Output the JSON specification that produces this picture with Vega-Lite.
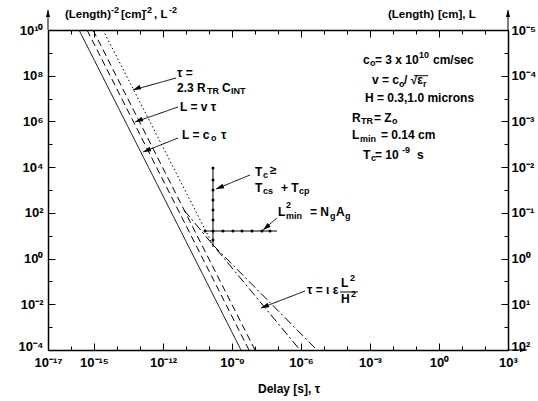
{
  "$schema": "https://vega.github.io/schema/vega-lite/v6.json",
  "width": 460,
  "height": 320,
  "autosize": {"type": "none"},
  "padding": {"left": 48, "top": 30, "right": 30, "bottom": 51},
  "background": "white",
  "config": {
    "view": {"stroke": null},
    "axis": {
      "grid": false,
      "domainColor": "black",
      "domainWidth": 1.5,
      "tickColor": "black",
      "tickWidth": 1,
      "labelFont": "Liberation Sans",
      "labelFontWeight": "bold",
      "labelFontSize": 13,
      "labelColor": "black",
      "labelOverlap": false,
      "labelBound": false,
      "labelFlush": false
    }
  },
  "datasets": {
    "segs": [
      {"series": "solid", "t1": 2.23e-16, "v1": 1e10, "t2": 2.46e-9, "v2": 1e-4},
      {"series": "dashed", "t1": 4.97e-16, "v1": 1e10, "t2": 5.48e-9, "v2": 1e-4},
      {"series": "dashed", "t1": 9.06e-16, "v1": 1e10, "t2": 1.0e-8, "v2": 1e-4},
      {"series": "dotted", "t1": 2.46e-15, "v1": 1e10, "t2": 1.49e-10, "v2": 3.93},
      {"series": "dashdot", "t1": 8.18e-12, "v1": 133, "t2": 9.06e-7, "v2": 1e-4},
      {"series": "dashdot", "t1": 1.49e-10, "v1": 3.93, "t2": 4.97e-6, "v2": 1e-4},
      {"series": "plus", "t1": 1.49e-10, "v1": 9170, "t2": 1.49e-10, "v2": 3.21},
      {"series": "plus", "t1": 6.70e-11, "v1": 16.07, "t2": 9.06e-8, "v2": 16.07},
      {"series": "arrow", "t1": 3.67e-12, "v1": 7.94e7, "t2": 4.97e-14, "v2": 2.37e7},
      {"series": "arrow", "t1": 4.49e-12, "v1": 4.28e6, "t2": 6.07e-14, "v2": 9.44e5},
      {"series": "arrow", "t1": 4.49e-12, "v1": 1.88e5, "t2": 1.35e-13, "v2": 4.60e4},
      {"series": "arrow", "t1": 6.07e-9, "v1": 4530, "t2": 2.01e-10, "v2": 1107},
      {"series": "arrow", "t1": 9.06e-8, "v1": 59.6, "t2": 2.23e-8, "v2": 17.8},
      {"series": "arrow", "t1": 1.49e-6, "v1": 0.0381, "t2": 1.82e-8, "v2": 0.00688},
      {"series": "axis", "t1": 1e-17, "v1": 1e10, "t2": 1e-17, "v2": 7.5e10},
      {"series": "axis", "t1": 1e3, "v1": 1e10, "t2": 1e3, "v2": 7.5e10},
      {"series": "axis", "t1": 1e3, "v1": 1e-4, "t2": 6.7e3, "v2": 1e-4},
      {"series": "arrow", "t1": 4.97e-5, "v1": 0.0345, "t2": 3.01e-4, "v2": 0.0345},
      {"series": "arrow", "t1": 0.0818, "v1": 1.0e8, "t2": 0.333, "v2": 1.0e8}
    ],
    "plus": [
      {"t": 1.49e-10, "v": 9170}, {"t": 1.49e-10, "v": 2738}, {"t": 1.49e-10, "v": 1000},
      {"t": 1.49e-10, "v": 365}, {"t": 1.49e-10, "v": 133}, {"t": 1.49e-10, "v": 48.7},
      {"t": 1.49e-10, "v": 16.07}, {"t": 1.49e-10, "v": 6.49},
      {"t": 6.70e-11, "v": 16.07}, {"t": 4.06e-10, "v": 16.07}, {"t": 1.10e-9, "v": 16.07},
      {"t": 2.72e-9, "v": 16.07}, {"t": 7.41e-9, "v": 16.07}, {"t": 2.01e-8, "v": 16.07},
      {"t": 4.49e-8, "v": 16.07}
    ],
    "heads158": [
      {"t": 4.97e-14, "v": 2.37e7}, {"t": 6.07e-14, "v": 9.44e5}, {"t": 1.35e-13, "v": 4.60e4},
      {"t": 2.01e-10, "v": 1107}, {"t": 1.82e-8, "v": 0.00688}
    ],
    "heads140": [{"t": 2.23e-8, "v": 17.8}],
    "headsUp": [{"t": 1e-17, "v": 7.5e10}, {"t": 1e3, "v": 7.5e10}],
    "headsRight": [{"t": 6.7e3, "v": 1e-4}],
    "big": [
      {"label": "τ =", "t": 4.06e-12, "v": 1.315e8},
      {"label": "2.3 R", "t": 4.06e-12, "v": 2.90e7},
      {"label": "C", "t": 3.67e-10, "v": 2.90e7},
      {"label": "L = v τ", "t": 5.48e-12, "v": 4.28e6},
      {"label": "L = c", "t": 6.70e-12, "v": 2.55e5},
      {"label": "τ", "t": 3.33e-10, "v": 2.55e5},
      {"label": "T", "t": 1e-8, "v": 6130},
      {"label": "≥", "t": 4.49e-8, "v": 7500},
      {"label": "T", "t": 1e-8, "v": 1224},
      {"label": "+ T", "t": 1.35e-7, "v": 1224},
      {"label": "L", "t": 1e-7, "v": 109},
      {"label": "= N", "t": 2.46e-6, "v": 109},
      {"label": "A", "t": 3.32e-5, "v": 109},
      {"label": "τ = ι ε", "t": 1.82e-6, "v": 0.0422},
      {"label": "L", "t": 5.48e-5, "v": 0.0853},
      {"label": "H", "t": 5.48e-5, "v": 0.0170},
      {"label": "c", "t": 4.97e-4, "v": 4.87e8},
      {"label": "= 3 x 10", "t": 1.65e-3, "v": 4.87e8},
      {"label": "cm/sec", "t": 0.548, "v": 4.87e8},
      {"label": "v = c", "t": 1.22e-3, "v": 6.49e7},
      {"label": "/ √ε", "t": 0.0301, "v": 6.49e7},
      {"label": "H = 0.3,1.0 microns", "t": 6.07e-4, "v": 1.06e7},
      {"label": "R", "t": 1.65e-4, "v": 1.41e6},
      {"label": "= Z", "t": 1.49e-3, "v": 1.41e6},
      {"label": "L", "t": 1.65e-4, "v": 2.55e5},
      {"label": "= 0.14 cm", "t": 3.01e-3, "v": 2.55e5},
      {"label": "T", "t": 4.97e-4, "v": 3.40e4},
      {"label": "= 10", "t": 1.65e-3, "v": 3.40e4},
      {"label": "s", "t": 0.11, "v": 3.40e4},
      {"label": "Delay [s], τ", "t": 1.35e-8, "v": 2.0e-6}
    ],
    "titles": [
      {"label": "(Length)", "t": 5.48e-17, "v": 4.53e10},
      {"label": "[cm]", "t": 1.49e-14, "v": 4.53e10},
      {"label": ", L", "t": 4.06e-13, "v": 4.53e10},
      {"label": "(Length)", "t": 6.07e-3, "v": 4.53e10},
      {"label": "[cm], L", "t": 0.906, "v": 4.53e10}
    ],
    "small": [
      {"label": "TR", "t": 8.18e-11, "v": 2.14e7},
      {"label": "INT", "t": 9.06e-10, "v": 2.14e7},
      {"label": "o", "t": 1.22e-10, "v": 1.88e5},
      {"label": "c", "t": 2.23e-8, "v": 4530},
      {"label": "cs", "t": 2.23e-8, "v": 903},
      {"label": "cp", "t": 8.18e-7, "v": 903},
      {"label": "2", "t": 2.23e-7, "v": 221},
      {"label": "min", "t": 2.23e-7, "v": 72.9},
      {"label": "g", "t": 1.82e-5, "v": 72.9},
      {"label": "g", "t": 8.18e-5, "v": 72.9},
      {"label": "2", "t": 1.35e-4, "v": 0.141},
      {"label": "2", "t": 1.49e-4, "v": 0.0282},
      {"label": "o", "t": 1e-3, "v": 3.60e8},
      {"label": "10", "t": 0.135, "v": 8.06e8},
      {"label": "o", "t": 0.01824, "v": 4.34e7},
      {"label": "r", "t": 0.201, "v": 4.34e7},
      {"label": "TR", "t": 4.06e-4, "v": 1.04e6},
      {"label": "o", "t": 9.06e-3, "v": 1.04e6},
      {"label": "min", "t": 3.67e-4, "v": 1.70e5},
      {"label": "c", "t": 1.10e-3, "v": 2.51e4},
      {"label": "-9", "t": 0.0246, "v": 5.62e4},
      {"label": "-2", "t": 5.48e-15, "v": 7.5e10},
      {"label": "-2", "t": 1.49e-13, "v": 7.5e10},
      {"label": "-2", "t": 1.82e-12, "v": 7.5e10}
    ]
  },
  "layer": [
    {
      "data": {"name": "segs"},
      "mark": {"type": "rule", "color": "black", "strokeWidth": 1},
      "encoding": {
        "x": {
          "field": "t1", "type": "quantitative",
          "scale": {"type": "log", "domain": [1e-17, 1e3], "nice": false},
          "axis": {
            "orient": "bottom", "title": null,
            "values": [1e-17,1e-16,1e-15,1e-14,1e-13,1e-12,1e-11,1e-10,1e-9,1e-8,1e-7,1e-6,1e-5,1e-4,1e-3,1e-2,1e-1,1,10,100,1000],
            "tickSize": {"condition": {"test": "indexof([-17,-15,-12,-9,-6,-3,0,3], round(log(datum.value)/LN10)) >= 0", "value": -7}, "value": -4},
            "labelPadding": 13,
            "labelExpr": "indexof([-17,-15,-12,-9,-6,-3,0,3], round(log(datum.value)/LN10)) >= 0 ? ['10⁻¹⁷','10⁻¹⁵','10⁻¹²','10⁻⁹','10⁻⁶','10⁻³','10⁰','10³'][indexof([-17,-15,-12,-9,-6,-3,0,3], round(log(datum.value)/LN10))] : ''"
          }
        },
        "x2": {"field": "t2"},
        "y": {
          "field": "v1", "type": "quantitative",
          "scale": {"type": "log", "domain": [1e-4, 1e10], "nice": false},
          "axis": {
            "orient": "left", "title": null,
            "values": [1e-4,1e-3,1e-2,1e-1,1,10,100,1e3,1e4,1e5,1e6,1e7,1e8,1e9,1e10],
            "tickSize": {"condition": {"test": "round(log(datum.value)/LN10) % 2 == 0", "value": -7}, "value": -4},
            "labelPadding": 12,
            "labelBaseline": {"condition": {"test": "datum.value < 2e-4", "value": "alphabetic"}, "value": "middle"},
            "labelExpr": "round(log(datum.value)/LN10) % 2 == 0 ? ['10⁻⁴','10⁻²','10⁰','10²','10⁴','10⁶','10⁸','10¹⁰'][(round(log(datum.value)/LN10)+4)/2] : ''"
          }
        },
        "y2": {"field": "v2"},
        "strokeDash": {
          "field": "series", "type": "nominal", "legend": null,
          "scale": {
            "domain": ["solid", "dashed", "dotted", "dashdot", "plus", "arrow", "axis"],
            "range": [[1, 0], [7, 4], [1.5, 2.5], [9, 3, 2, 3], [1, 0], [1, 0], [1, 0]]
          }
        }
      }
    },
    {
      "data": {"name": "plus"},
      "mark": {"type": "point", "shape": "circle", "filled": true, "size": 9, "color": "black", "opacity": 1},
      "encoding": {
        "x": {
          "field": "t", "type": "quantitative",
          "scale": {"type": "log", "domain": [1e-17, 1e3], "nice": false},
          "axis": {
            "orient": "top", "title": null, "labels": false,
            "values": [1e-17,1e-16,1e-15,1e-14,1e-13,1e-12,1e-11,1e-10,1e-9,1e-8,1e-7,1e-6,1e-5,1e-4,1e-3,1e-2,1e-1,1,10,100,1000],
            "tickSize": {"condition": {"test": "indexof([-17,-15,-12,-9,-6,-3,0,3], round(log(datum.value)/LN10)) >= 0", "value": -7}, "value": -4}
          }
        },
        "y": {
          "field": "v", "type": "quantitative",
          "scale": {"type": "log", "domain": [1e-4, 1e10], "nice": false},
          "axis": {
            "orient": "right", "title": null,
            "values": [1e-4,1e-3,1e-2,1e-1,1,10,100,1e3,1e4,1e5,1e6,1e7,1e8,1e9,1e10],
            "tickSize": {"condition": {"test": "round(log(datum.value)/LN10) % 2 == 0", "value": -7}, "value": -4},
            "labelPadding": 10,
            "labelBaseline": {"condition": {"test": "datum.value < 2e-4", "value": "alphabetic"}, "value": "middle"},
            "labelExpr": "round(log(datum.value)/LN10) % 2 == 0 ? ['10²','10¹','10⁰','10⁻¹','10⁻²','10⁻³','10⁻⁴','10⁻⁵'][(round(log(datum.value)/LN10)+4)/2] : ''"
          }
        }
      }
    },
    {
      "data": {"name": "heads158"},
      "mark": {"type": "point", "shape": "M0,0L-2,-0.6L-2,0.6Z", "filled": true, "size": 64, "angle": 158, "color": "black", "opacity": 1},
      "encoding": {
        "x": {"field": "t", "type": "quantitative", "scale": {"type": "log", "domain": [1e-17, 1e3], "nice": false}, "axis": null},
        "y": {"field": "v", "type": "quantitative", "scale": {"type": "log", "domain": [1e-4, 1e10], "nice": false}, "axis": null}
      }
    },
    {
      "data": {"name": "heads140"},
      "mark": {"type": "point", "shape": "M0,0L-2,-0.6L-2,0.6Z", "filled": true, "size": 64, "angle": 140, "color": "black", "opacity": 1},
      "encoding": {
        "x": {"field": "t", "type": "quantitative", "scale": {"type": "log", "domain": [1e-17, 1e3], "nice": false}, "axis": null},
        "y": {"field": "v", "type": "quantitative", "scale": {"type": "log", "domain": [1e-4, 1e10], "nice": false}, "axis": null}
      }
    },
    {
      "data": {"name": "headsUp"},
      "mark": {"type": "point", "shape": "M0,0L-2,-0.6L-2,0.6Z", "filled": true, "size": 49, "angle": -90, "color": "black", "opacity": 1},
      "encoding": {
        "x": {"field": "t", "type": "quantitative", "scale": {"type": "log", "domain": [1e-17, 1e3], "nice": false}, "axis": null},
        "y": {"field": "v", "type": "quantitative", "scale": {"type": "log", "domain": [1e-4, 1e10], "nice": false}, "axis": null}
      }
    },
    {
      "data": {"name": "headsRight"},
      "mark": {"type": "point", "shape": "M0,0L-2,-0.6L-2,0.6Z", "filled": true, "size": 49, "angle": 0, "color": "black", "opacity": 1},
      "encoding": {
        "x": {"field": "t", "type": "quantitative", "scale": {"type": "log", "domain": [1e-17, 1e3], "nice": false}, "axis": null},
        "y": {"field": "v", "type": "quantitative", "scale": {"type": "log", "domain": [1e-4, 1e10], "nice": false}, "axis": null}
      }
    },
    {
      "data": {"name": "big"},
      "mark": {"type": "text", "align": "left", "baseline": "middle", "font": "Liberation Sans", "fontSize": 12, "fontWeight": "bold", "color": "black"},
      "encoding": {
        "x": {"field": "t", "type": "quantitative", "scale": {"type": "log", "domain": [1e-17, 1e3], "nice": false}, "axis": null},
        "y": {"field": "v", "type": "quantitative", "scale": {"type": "log", "domain": [1e-4, 1e10], "nice": false}, "axis": null},
        "text": {"field": "label", "type": "nominal"}
      }
    },
    {
      "data": {"name": "titles"},
      "mark": {"type": "text", "align": "left", "baseline": "middle", "font": "Liberation Sans", "fontSize": 11.5, "fontWeight": "bold", "color": "black"},
      "encoding": {
        "x": {"field": "t", "type": "quantitative", "scale": {"type": "log", "domain": [1e-17, 1e3], "nice": false}, "axis": null},
        "y": {"field": "v", "type": "quantitative", "scale": {"type": "log", "domain": [1e-4, 1e10], "nice": false}, "axis": null},
        "text": {"field": "label", "type": "nominal"}
      }
    },
    {
      "data": {"name": "small"},
      "mark": {"type": "text", "align": "left", "baseline": "middle", "font": "Liberation Sans", "fontSize": 9, "fontWeight": "bold", "color": "black"},
      "encoding": {
        "x": {"field": "t", "type": "quantitative", "scale": {"type": "log", "domain": [1e-17, 1e3], "nice": false}, "axis": null},
        "y": {"field": "v", "type": "quantitative", "scale": {"type": "log", "domain": [1e-4, 1e10], "nice": false}, "axis": null},
        "text": {"field": "label", "type": "nominal"}
      }
    }
  ],
  "resolve": {"axis": {"x": "independent", "y": "independent"}}
}
